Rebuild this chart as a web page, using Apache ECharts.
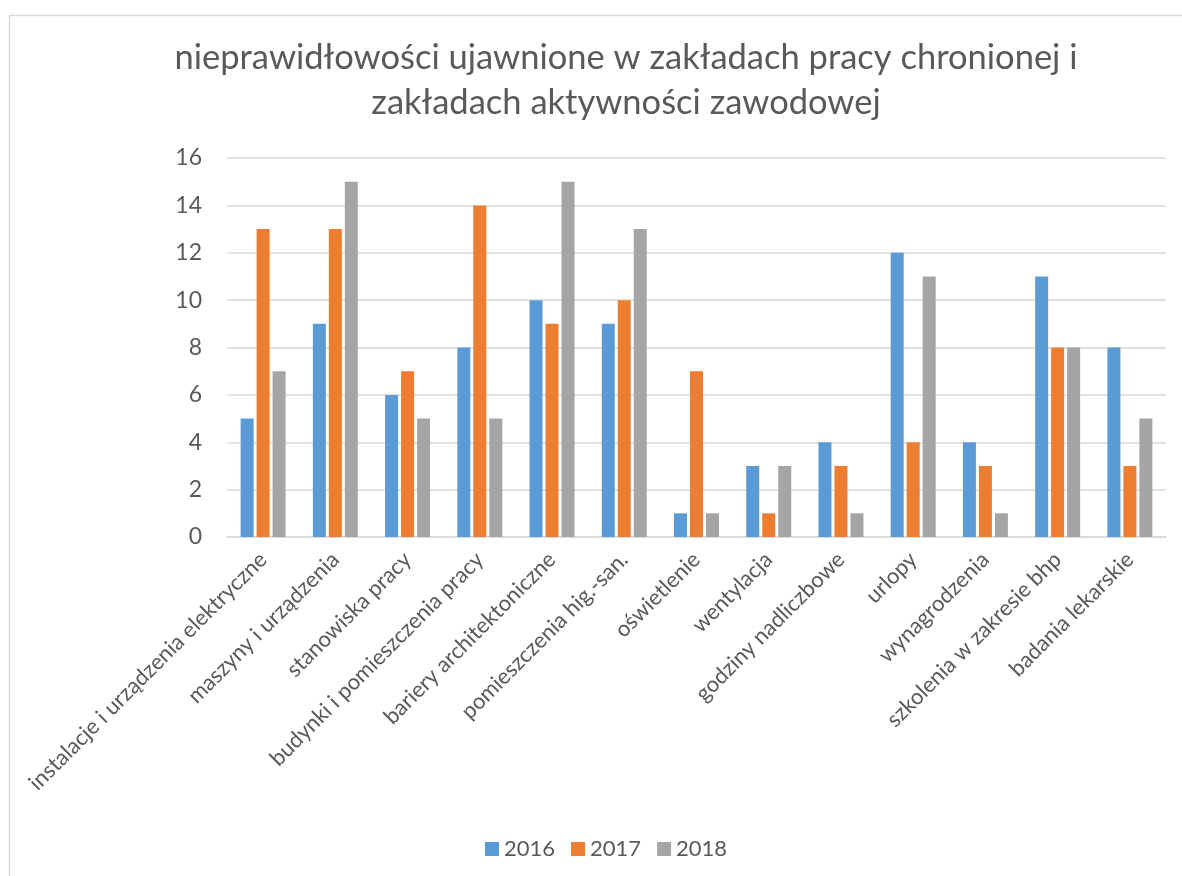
<!DOCTYPE html>
<html>
<head>
<meta charset="utf-8">
<script src="https://cdn.jsdelivr.net/npm/echarts@6/dist/echarts.min.js"></script>
<style>
  html, body { margin: 0; padding: 0; background: #ffffff; }
  #chart { width: 1182px; height: 876px; }
</style>
</head>
<body>
<div id="chart"></div>
<script>
// Categories of irregularities found during inspections
const categories = [
  'instalacje i urządzenia elektryczne',
  'maszyny i urządzenia',
  'stanowiska pracy',
  'budynki i pomieszczenia pracy',
  'bariery architektoniczne',
  'pomieszczenia hig.-san.',
  'oświetlenie',
  'wentylacja',
  'godziny nadliczbowe',
  'urlopy',
  'wynagrodzenia',
  'szkolenia w zakresie bhp',
  'badania lekarskie'
];

// Number of irregularities per year
const values2016 = [5, 9, 6, 8, 10, 9, 1, 3, 4, 12, 4, 11, 8];
const values2017 = [13, 13, 7, 14, 9, 10, 7, 1, 3, 4, 3, 8, 3];
const values2018 = [7, 15, 5, 5, 15, 13, 1, 3, 1, 11, 1, 8, 5];

const seriesNames = ['2016', '2017', '2018'];
const seriesColors = ['#5B9BD5', '#ED7D31', '#A5A5A5'];

const titleLines = [
  'nieprawidłowości ujawnione w zakładach pracy chronionej i',
  'zakładach aktywności zawodowej'
];

const FONT = 'Lato';
const TEXT = '#595959';
const LINE = '#D9D9D9';

const chart = echarts.init(document.getElementById('chart'), null, { renderer: 'canvas' });

const seriesData = [values2016, values2017, values2018];

chart.setOption({
  backgroundColor: '#ffffff',
  animation: false,
  graphic: [{
    type: 'rect',
    left: 7, top: 13,
    shape: { width: 1200, height: 900 },
    style: { fill: 'none', stroke: LINE, lineWidth: 1.5 },
    silent: true,
    z: -10
  }],
  title: {
    text: titleLines.join('\n'),
    left: 621,
    textAlign: 'center',
    top: 30,
    textStyle: {
      fontFamily: FONT,
      fontWeight: 400,
      fontSize: 34.5,
      lineHeight: 45,
      color: TEXT
    }
  },
  legend: {
    data: seriesNames,
    left: 480,
    top: 833,
    itemWidth: 14,
    itemHeight: 14,
    itemGap: 16,
    icon: 'rect',
    textStyle: { fontFamily: FONT, fontSize: 22, color: TEXT }
  },
  grid: {
    left: 227,
    right: 16,
    top: 158,
    bottom: 339,
    containLabel: false
  },
  xAxis: {
    type: 'category',
    data: categories,
    axisLine: { show: true, lineStyle: { color: LINE, width: 1.5 } },
    axisTick: { show: false },
    axisLabel: {
      interval: 0,
      rotate: 45,
      margin: 19,
      padding: [14, 0, 0, 0],
      fontFamily: FONT,
      fontSize: 22,
      color: TEXT
    }
  },
  yAxis: {
    type: 'value',
    min: 0,
    max: 16,
    interval: 2,
    axisLine: { show: false },
    axisTick: { show: false },
    splitLine: { lineStyle: { color: LINE, width: 1.5 } },
    axisLabel: {
      margin: 25,
      fontFamily: FONT,
      fontSize: 23,
      color: TEXT
    }
  },
  series: seriesNames.map((name, i) => ({
    name: name,
    type: 'bar',
    data: seriesData[i],
    barWidth: 13,
    barGap: '23%',
    itemStyle: { color: seriesColors[i] }
  }))
});
</script>
</body>
</html>
